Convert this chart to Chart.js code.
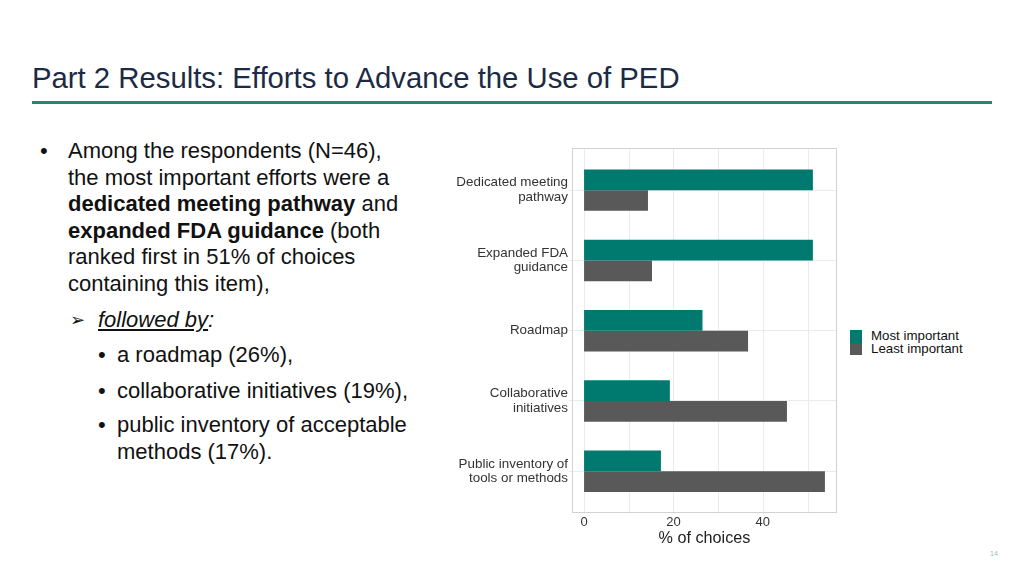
<!DOCTYPE html>
<html>
<head>
<meta charset="utf-8">
<script src="https://cdn.jsdelivr.net/npm/chart.js@4/dist/chart.umd.min.js"></script>
<style>
  body { margin: 0; width: 1024px; height: 576px; background: #fff; position: relative; overflow: hidden;
         font-family: "Liberation Sans", Arial, sans-serif; color: #111; }
  .abs { position: absolute; white-space: nowrap; }
  #title { left: 32px; top: 62px; font-size: 29.3px; line-height: 32px; color: #1c2a45; }
  #rule { left: 32px; top: 101px; width: 960px; height: 3px; background: #1b8a78; }
  .txt { font-size: 22px; line-height: 26.5px; }
  .sub { font-style: italic; text-decoration: underline; }
  #chartBox { left: 440px; top: 135px; width: 400px; height: 420px; }
  .key { left: 850px; width: 12px; height: 12.5px; }
  .keyTxt { left: 871px; font-size: 13.3px; line-height: 12.5px; color: #111; }
  #page { left: 990px; top: 550px; font-size: 7px; color: #9bbcb5; }
</style>
</head>
<body>
<div id="title" class="abs">Part 2 Results: Efforts to Advance the Use of PED</div>
<div id="rule" class="abs"></div>

<div class="abs txt" style="left:40px; top:138px;">•</div>
<div class="abs txt" style="left:68px; top:138px;">
Among the respondents (N=46),<br>
the most important efforts were a<br>
<b>dedicated meeting pathway</b> and<br>
<b>expanded FDA guidance</b> (both<br>
ranked first in 51% of choices<br>
containing this item),
</div>
<div class="abs txt" style="left:70px; top:307px; font-size:18px;">&#10146;</div>
<div class="abs txt" style="left:98px; top:307px;"><span class="sub">followed by</span><i>:</i></div>
<div class="abs txt" style="left:98px; top:342px;">•</div>
<div class="abs txt" style="left:117px; top:342px;">a roadmap (26%),</div>
<div class="abs txt" style="left:98px; top:378px;">•</div>
<div class="abs txt" style="left:117px; top:378px;">collaborative initiatives (19%),</div>
<div class="abs txt" style="left:98px; top:412px;">•</div>
<div class="abs txt" style="left:117px; top:412px;">public inventory of acceptable<br>methods (17%).</div>

<div id="chartBox" class="abs"><canvas id="chart"></canvas></div>
<div id="legend"></div>
<div id="page" class="abs">14</div>

<script>
const categories = [
  ['Dedicated meeting', 'pathway'],
  ['Expanded FDA', 'guidance'],
  'Roadmap',
  ['Collaborative', 'initiatives'],
  ['Public inventory of', 'tools or methods']
];
const seriesLabels = ['Most important', 'Least important'];
const seriesColors = ['#007a6e', '#595959'];
const mostImportant = [51.2, 51.2, 26.5, 19.2, 17.2];
const leastImportant = [14.3, 15.2, 36.7, 45.4, 53.9];
const tickLabels = [0, 20, 40];

// ggplot pads a discrete axis by 0.6 of a band, Chart.js by 0.5 -> draw the frame a bit taller
const panelFrame = {
  id: 'panelFrame',
  beforeDatasetsDraw(chart) {
    const { ctx, chartArea: a, scales: { x } } = chart;
    const ext = (a.bottom - a.top) / categories.length * 0.1;
    ctx.save();
    ctx.lineWidth = 1;
    ctx.strokeStyle = '#ebebeb';
    x.ticks.forEach(t => {
      const px = Math.round(x.getPixelForValue(t.value)) + 0.5;
      ctx.beginPath();
      ctx.moveTo(px, a.top - ext);
      ctx.lineTo(px, a.bottom + ext);
      ctx.stroke();
    });
    ctx.strokeStyle = '#d2d2d2';
    ctx.strokeRect(Math.round(a.left) + 0.5, Math.round(a.top - ext) + 0.5,
                   Math.round(a.width) - 1, Math.round(a.bottom - a.top + 2 * ext) - 1);
    ctx.restore();
  }
};

const chart = new Chart(document.getElementById('chart'), {
  type: 'bar',
  data: {
    labels: categories,
    datasets: [
      { label: seriesLabels[0], data: mostImportant, backgroundColor: seriesColors[0] },
      { label: seriesLabels[1], data: leastImportant, backgroundColor: seriesColors[1] }
    ]
  },
  options: {
    indexAxis: 'y',
    responsive: true,
    maintainAspectRatio: false,
    animation: false,
    categoryPercentage: 0.59,
    barPercentage: 1,
    layout: { padding: { top: 20, right: 3, bottom: 7, left: 0 } },
    scales: {
      x: {
        min: -2.7,
        max: 56.6,
        afterFit: s => { s.height = 41.6; },
        grid: { display: false, drawTicks: false },
        border: { display: false },
        ticks: {
          stepSize: 10,
          includeBounds: false,
          padding: 10,
          color: '#333',
          font: { family: 'Liberation Sans, Arial', size: 13, lineHeight: 1 },
          callback: v => tickLabels.includes(v) ? String(v) : ''
        },
        title: {
          display: true,
          text: '% of choices',
          color: '#222',
          padding: 0,
          font: { family: 'Liberation Sans, Arial', size: 16.2, lineHeight: 1.2 }
        }
      },
      y: {
        afterFit: s => { s.width = 132; },
        grid: { offset: false, color: '#ebebeb', tickLength: 3 },
        border: { display: false },
        ticks: {
          padding: 1,
          color: '#333',
          font: { family: 'Liberation Sans, Arial', size: 13.4, lineHeight: 1.1 }
        }
      }
    },
    plugins: {
      legend: { display: false },
      tooltip: { enabled: false }
    }
  },
  plugins: [panelFrame]
});

// legend outside the canvas, built from the datasets
const legendBox = document.getElementById('legend');
chart.data.datasets.forEach((ds, i) => {
  const top = 330 + i * 12.5;
  const sw = document.createElement('div');
  sw.className = 'abs key';
  sw.style.top = top + 'px';
  sw.style.background = ds.backgroundColor;
  const tx = document.createElement('div');
  tx.className = 'abs keyTxt';
  tx.style.top = top + 'px';
  tx.textContent = ds.label;
  legendBox.appendChild(sw);
  legendBox.appendChild(tx);
});
</script>
</body>
</html>
